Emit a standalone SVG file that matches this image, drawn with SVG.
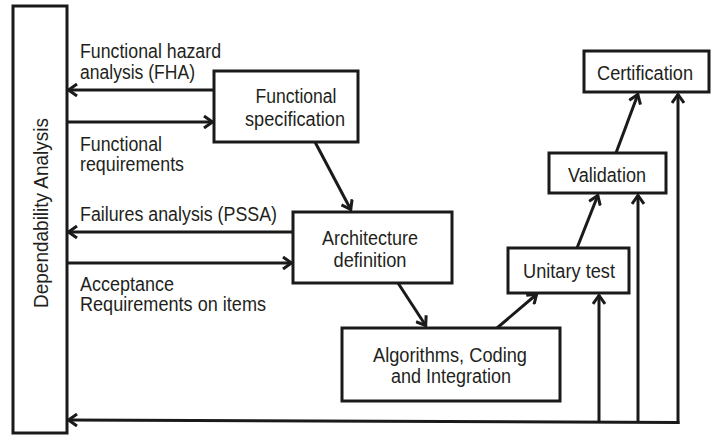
<svg xmlns="http://www.w3.org/2000/svg" width="716" height="435" viewBox="0 0 716 435">
  <style>
    .box { fill: #ffffff; stroke: #1a1a1a; stroke-width: 3; }
    .ln { fill: none; stroke: #1a1a1a; stroke-width: 3; }
    text { font-family: "Liberation Sans", Arial, sans-serif; font-size: 20px; fill: #231f20; }
    .c { text-anchor: middle; }
  </style>
  <defs>
    <marker id="ah" viewBox="0 0 12 14" refX="11" refY="7" markerWidth="12" markerHeight="14" markerUnits="userSpaceOnUse" orient="auto">
      <path d="M2,1 L10.5,7 L2,13" fill="none" stroke="#1a1a1a" stroke-width="3" stroke-linejoin="miter"/>
    </marker>
  </defs>
  <rect width="716" height="435" fill="#ffffff"/>

  <g id="dependability">
    <rect class="box" x="13" y="6" width="54" height="427"/>
    <text transform="translate(48,213) rotate(-90)" class="c" textLength="190" lengthAdjust="spacingAndGlyphs">Dependability Analysis</text>
  </g>

  <g id="functional-spec">
    <rect class="box" x="214" y="71" width="144" height="71"/>
    <text x="296" y="103" class="c" textLength="81" lengthAdjust="spacingAndGlyphs">Functional</text>
    <text x="295" y="126" class="c" textLength="100" lengthAdjust="spacingAndGlyphs">specification</text>
  </g>

  <g id="architecture">
    <rect class="box" x="293" y="212" width="159" height="71"/>
    <text x="370" y="245" class="c" textLength="96" lengthAdjust="spacingAndGlyphs">Architecture</text>
    <text x="370" y="267" class="c" textLength="73" lengthAdjust="spacingAndGlyphs">definition</text>
  </g>

  <g id="algorithms">
    <rect class="box" x="342" y="328" width="218" height="73"/>
    <text x="450" y="362" class="c" textLength="154" lengthAdjust="spacingAndGlyphs">Algorithms, Coding</text>
    <text x="451" y="383" class="c" textLength="120" lengthAdjust="spacingAndGlyphs">and Integration</text>
  </g>

  <g id="unitary-test">
    <rect class="box" x="508" y="248" width="121" height="45"/>
    <text x="569" y="278" class="c" textLength="92" lengthAdjust="spacingAndGlyphs">Unitary test</text>
  </g>

  <g id="validation">
    <rect class="box" x="549" y="153" width="117" height="40"/>
    <text x="607" y="182" class="c" textLength="78" lengthAdjust="spacingAndGlyphs">Validation</text>
  </g>

  <g id="certification">
    <rect class="box" x="584" y="51" width="125" height="41"/>
    <text x="645" y="80" class="c" textLength="96" lengthAdjust="spacingAndGlyphs">Certification</text>
  </g>

  <g id="labels">
    <text x="80" y="58" textLength="141" lengthAdjust="spacingAndGlyphs">Functional hazard</text>
    <text x="80" y="79" textLength="115" lengthAdjust="spacingAndGlyphs">analysis (FHA)</text>
    <text x="80" y="151" textLength="82" lengthAdjust="spacingAndGlyphs">Functional</text>
    <text x="80" y="171" textLength="104" lengthAdjust="spacingAndGlyphs">requirements</text>
    <text x="80" y="221" textLength="197" lengthAdjust="spacingAndGlyphs">Failures analysis (PSSA)</text>
    <text x="80" y="291" textLength="94" lengthAdjust="spacingAndGlyphs">Acceptance</text>
    <text x="80" y="311" textLength="186" lengthAdjust="spacingAndGlyphs">Requirements on items</text>
  </g>

  <g id="connectors">
    <line class="ln" x1="214" y1="90" x2="68" y2="90" marker-end="url(#ah)"/>
    <line class="ln" x1="67" y1="122" x2="213" y2="122" marker-end="url(#ah)"/>
    <line class="ln" x1="293" y1="232" x2="68" y2="232" marker-end="url(#ah)"/>
    <line class="ln" x1="67" y1="263" x2="292" y2="263" marker-end="url(#ah)"/>
    <line class="ln" x1="315" y1="142" x2="351" y2="210" marker-end="url(#ah)"/>
    <line class="ln" x1="398" y1="283" x2="426" y2="326" marker-end="url(#ah)"/>
    <line class="ln" x1="497" y1="328" x2="537" y2="294" marker-end="url(#ah)"/>
    <line class="ln" x1="577" y1="248" x2="598" y2="195" marker-end="url(#ah)"/>
    <line class="ln" x1="616" y1="153" x2="638" y2="94" marker-end="url(#ah)"/>
    <line class="ln" x1="679.5" y1="422.5" x2="68" y2="420" marker-end="url(#ah)"/>
    <line class="ln" x1="599" y1="422" x2="599" y2="295" marker-end="url(#ah)"/>
    <line class="ln" x1="638" y1="422" x2="638" y2="195" marker-end="url(#ah)"/>
    <line class="ln" x1="678" y1="424" x2="678" y2="94" marker-end="url(#ah)"/>
  </g>
</svg>
